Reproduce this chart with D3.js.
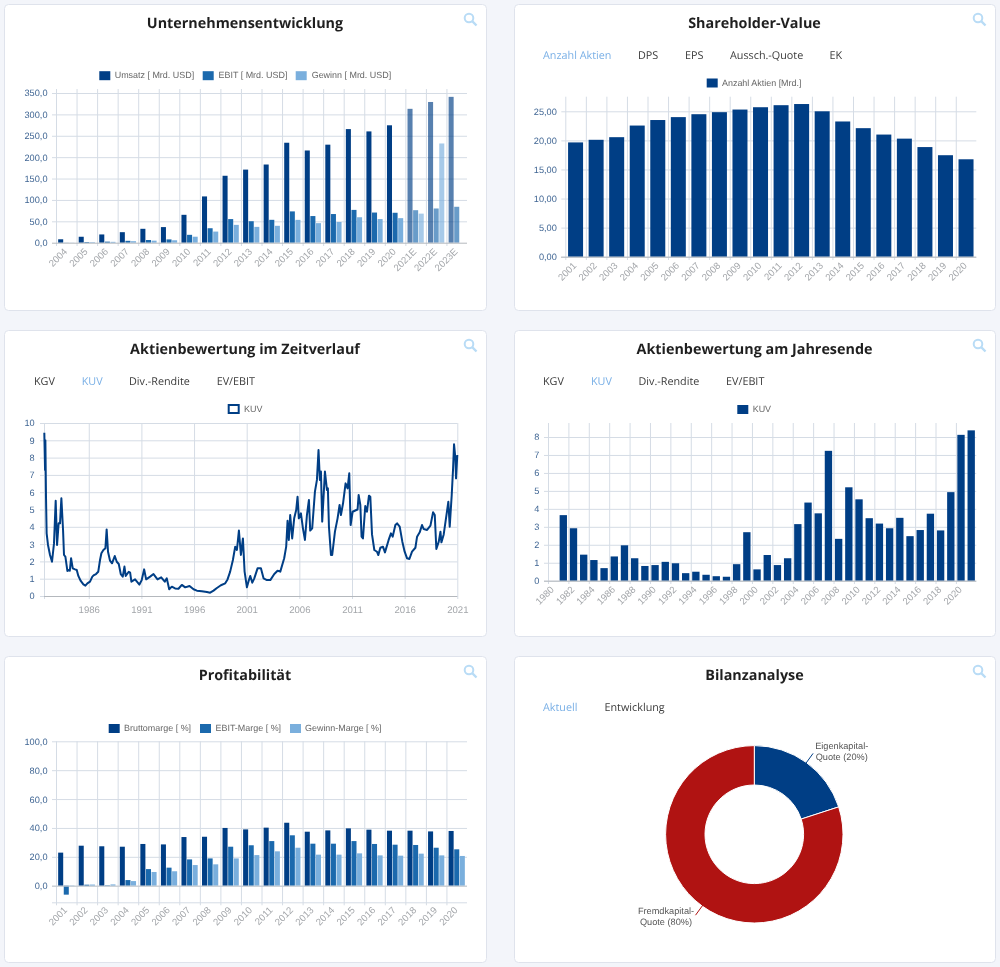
<!DOCTYPE html>
<html lang="de">
<head>
<meta charset="utf-8">
<title>Kennzahlen</title>
<script src="https://cdn.jsdelivr.net/npm/d3@7"></script>
<style>
html,body{margin:0;padding:0;background:#f3f5fa;}
svg{display:block;filter:blur(.35px);text-rendering:geometricPrecision;}
.title{font:700 14.35px "Open Sans",sans-serif;fill:#1f1f1f;text-anchor:middle;dominant-baseline:central;}
.tab{font:400 10.8px "Open Sans",sans-serif;fill:#3c3c3c;dominant-baseline:central;}
.tab.active{fill:#7ab0e6;}
.lg{font:8.95px "Liberation Sans",sans-serif;fill:#666;dominant-baseline:central;}
.ylab text{font:9.2px "Liberation Sans",sans-serif;fill:#3f6593;}
.xlab text{font:9.6px "Liberation Sans",sans-serif;fill:#a3a6aa;}
.grid line{stroke:#d5dce5;stroke-width:1;}
.grid path,.ylab path,.xlab path,.ylab line,.xlab line{display:none;}
.lbl{font:9.2px "Liberation Sans",sans-serif;fill:#555;text-anchor:middle;dominant-baseline:central;}
</style>
</head>
<body>
<svg id="c" width="1000" height="967"></svg>
<script>
// ---------- data ----------
const revenueYears = ["2004","2005","2006","2007","2008","2009","2010","2011","2012","2013","2014","2015","2016","2017","2018","2019","2020","2021E","2022E","2023E"];
const umsatz = [8,13.9,19.3,24.6,32.5,36.5,65.2,108.2,156.5,170.9,182.8,233.7,215.6,229.2,265.6,260.2,274.5,313,329,341];
const ebit = [0.3,1.6,2.5,4.4,6.3,7.7,18.4,33.8,55.2,50.2,53.5,73.2,62.3,67,76.7,70.5,70,76,80,84];
const gewinn = [0.3,1.3,2,3.5,4.8,5.7,14,26,41.7,37,39.5,53.4,45.7,48.4,59.5,55.3,57.4,68,232,null];
const estimateYears = ["2021E","2022E","2023E"];
const revenueTicks = [0,50,100,150,200,250,300,350];

const shareYears = d3.range(2001,2021).map(String);
const anzahlAktien = [19.65,20.1,20.55,22.55,23.5,24,24.5,24.85,25.3,25.7,26.05,26.25,25,23.25,22.1,21,20.3,18.85,17.45,16.75];
const shareTicks = [0,5,10,15,20,25];

const kuvDates = [1981.78,1981.85,1981.88,1981.94,1982.0,1982.13,1982.32,1982.51,1982.7,1982.86,1982.99,1983.14,1983.27,1983.4,1983.56,1983.65,1983.78,1983.97,1984.1,1984.2,1984.32,1984.48,1984.7,1984.86,1985.01,1985.24,1985.49,1985.68,1985.87,1986.12,1986.34,1986.5,1986.69,1986.9,1987.07,1987.2,1987.39,1987.58,1987.7,1987.83,1988.02,1988.21,1988.47,1988.66,1988.85,1989.04,1989.23,1989.39,1989.51,1989.8,1989.93,1990.05,1990.4,1990.81,1991.03,1991.26,1991.45,1991.83,1992.15,1992.53,1992.88,1993.22,1993.41,1993.64,1993.89,1994.2,1994.52,1994.84,1995.16,1995.57,1995.95,1996.27,1996.74,1997.22,1997.53,1997.85,1998.17,1998.55,1998.96,1999.18,1999.43,1999.69,1999.91,2000.07,2000.26,2000.45,2000.64,2000.8,2001.02,2001.21,2001.34,2001.53,2001.72,2002.03,2002.35,2002.6,2002.92,2003.24,2003.62,2003.93,2004.19,2004.56,2004.75,2004.88,2005.0,2005.13,2005.32,2005.51,2005.7,2005.83,2005.95,2006.15,2006.34,2006.53,2006.72,2006.91,2007.03,2007.22,2007.48,2007.67,2007.82,2007.95,2008.05,2008.17,2008.43,2008.62,2008.71,2008.81,2009.0,2009.12,2009.38,2009.63,2009.82,2009.95,2010.15,2010.39,2010.58,2010.74,2010.87,2011.06,2011.41,2011.53,2011.63,2011.79,2011.91,2012.04,2012.26,2012.42,2012.61,2012.74,2012.9,2013.12,2013.37,2013.5,2013.69,2013.94,2014.13,2014.48,2014.7,2014.86,2015.12,2015.28,2015.53,2015.78,2016.0,2016.23,2016.45,2016.7,2017.02,2017.18,2017.43,2017.65,2017.81,2018.13,2018.45,2018.7,2018.86,2019.01,2019.24,2019.4,2019.49,2019.71,2019.97,2020.15,2020.28,2020.47,2020.6,2020.69,2020.82,2020.88,2021.0];
const kuvValues = [9.44,7.28,9.0,5.74,3.62,2.95,2.37,1.98,3.04,5.51,2.95,4.2,4.2,5.65,3.8,2.37,2.27,1.45,1.5,1.46,2.18,1.6,1.54,1.5,1.16,0.87,0.67,0.6,0.73,0.83,1.12,1.21,1.27,1.4,2.08,2.47,2.66,2.76,3.85,2.56,2.04,1.89,2.31,1.98,1.85,1.27,1.12,1.7,1.16,1.4,1.35,0.83,0.96,0.66,0.92,1.54,0.96,1.12,1.27,0.96,1.08,0.83,1.02,0.39,0.54,0.44,0.42,0.64,0.5,0.58,0.39,0.31,0.27,0.23,0.19,0.31,0.46,0.62,0.73,0.96,1.41,2.08,2.85,2.66,3.78,2.37,3.33,1.41,0.5,0.92,1.16,0.77,1.02,1.6,1.6,1.02,0.92,0.92,1.27,1.46,1.41,2.18,2.85,4.35,3.24,4.68,3.33,4.49,4.97,5.74,4.49,4.78,3.91,3.24,4.68,5.55,3.78,3.91,6.03,6.71,8.44,6.71,7.19,4.3,7.19,6.13,6.22,4.01,2.37,2.37,3.72,4.49,5.26,4.68,5.36,6.51,6.22,7.09,4.1,4.87,4.97,5.0,5.84,5.26,3.43,3.33,5.2,4.87,5.8,5.74,3.56,2.66,2.56,2.37,2.79,2.85,2.52,3.24,3.62,3.43,4.1,4.2,4.01,3.14,2.56,2.18,2.14,2.56,2.79,3.43,3.68,4.1,3.87,3.82,4.07,4.84,4.68,2.72,3.14,3.72,3.1,3.56,4.68,5.45,4.01,5.84,7.38,8.77,7.96,6.8,8.15];
const kuvLineTicks = [1986,1991,1996,2001,2006,2011,2016,2021];
const kuvLineYTicks = d3.range(0,11);

const kuvBarYears = d3.range(1980,2022).map(String);
const kuvBarValues = [null,3.65,2.92,1.45,1.15,0.7,1.35,1.97,1.25,0.82,0.87,1.05,0.97,0.42,0.5,0.33,0.25,0.22,0.92,2.7,0.63,1.43,0.87,1.25,3.15,4.35,3.75,7.23,2.33,5.2,4.53,3.48,3.18,2.92,3.5,2.48,2.82,3.73,2.8,4.93,8.12,8.37];
const kuvBarTicks = d3.range(0,9);

const marginYears = d3.range(2001,2021).map(String);
const bruttomarge = [22.9,27.7,27.3,27,28.9,28.6,33.7,33.9,40,39,40.2,43.6,37.4,38.3,39.7,38.8,38.1,38.1,37.6,37.9];
const ebitMarge = [-6.2,0.7,0.3,3.9,11.5,12.5,18.2,18.9,27,28,30.9,34.9,29.1,29.1,30.9,28.9,28.4,28.2,26.3,25.2];
const gewinnMarge = [-0.3,0.8,0.9,3.2,9.5,10,14.3,14.8,18.9,21.2,23.8,26.3,21.5,21.5,22.4,21,20.8,22.2,21,20.6];
const marginTicks = [0,20,40,60,80,100];

const bilanzLabels = [["Eigenkapital-","Quote (20%)"],["Fremdkapital-","Quote (80%)"]];
const bilanzValues = [20,80];

const navy="#003e85", mid="#1b69ad", light="#7aafdd", red="#b01312";
const de1=d3.format(".1f"), de2=d3.format(".2f");
const comma=f=>v=>f(v).replace(".",",");

// ---------- helpers ----------
const svg=d3.select("#c");
function card(x,y,w,h,title,tx){
  svg.append("rect").attr("x",x+.5).attr("y",y+.5).attr("width",w).attr("height",h).attr("rx",4)
    .attr("fill","#fff").attr("stroke","#dfe3ec");
  svg.append("text").attr("class","title").attr("x",tx).attr("y",y+19).text(title);
  const ic=svg.append("g").attr("transform",`translate(${x+w-17},${y+14})`).attr("fill","none").attr("stroke","#b9dcf6").attr("stroke-width",2);
  ic.append("circle").attr("r",4.3);
  ic.append("line").attr("x1",3.2).attr("y1",3.2).attr("x2",7.5).attr("y2",7.5).attr("stroke-width",2.4);
}
function tabs(list,y,activeIdx){
  list.forEach(([t,x],i)=>svg.append("text").attr("class","tab"+(i===activeIdx?" active":"")).attr("x",x).attr("y",y).text(t));
}
function legend(items,yc){
  items.forEach(it=>{
    const r=svg.append("rect").attr("x",it.x).attr("y",yc-4.5).attr("width",11).attr("height",9);
    if(it.outline) r.attr("x",it.x+1).attr("y",yc-4).attr("width",10).attr("height",8).attr("fill","#fff").attr("stroke",it.color).attr("stroke-width",2);
    else r.attr("fill",it.color);
    svg.append("text").attr("class","lg").attr("x",it.tx).attr("y",yc-.4).text(it.label);
  });
}
function yAxis(y,ticks,fmt,left,right,labelX){
  const g=svg.append("g").attr("class","grid").attr("transform",`translate(${left},0)`)
    .call(d3.axisLeft(y).tickValues(ticks).tickSize(-(right-left)).tickFormat(""));
  g.selectAll("line").attr("x1",right-left).attr("x2",-4);
  svg.append("g").attr("class","ylab").attr("transform",`translate(${labelX},0)`)
    .call(d3.axisLeft(y).tickValues(ticks).tickSize(0).tickPadding(0).tickFormat(fmt));
}
function vGrid(xs,top,bottom){
  svg.append("g").attr("class","grid").selectAll("line").data(xs).join("line")
    .attr("x1",d=>d+.5).attr("x2",d=>d+.5).attr("y1",top).attr("y2",bottom);
}
function xLabels(x,cats,yBase){
  const ax=svg.append("g").attr("class","xlab").attr("transform",`translate(0,${yBase})`)
    .call(d3.axisBottom(x).tickValues(cats).tickSize(0).tickPadding(0));
  ax.selectAll("text").attr("text-anchor","end").attr("dy",0).attr("y",0)
    .attr("transform",function(){return "translate(1.5,9.5) rotate(-45)";});
}
function base(x1,x2,y0,col){svg.append("line").attr("x1",x1).attr("x2",x2).attr("y1",y0+.5).attr("y2",y0+.5).attr("stroke",col||"#b4b8bd");}
function groupedBars(cats,seriesArr,colors,x0,y,opFn){
  const keys=d3.range(seriesArr.length);
  const x1=d3.scaleBand().domain(keys).range([0,x0.bandwidth()]).paddingInner(.1).paddingOuter(.385);
  keys.forEach(k=>{
    svg.append("g").selectAll("rect").data(cats.map((c,i)=>({c,v:seriesArr[k][i]})).filter(d=>d.v!=null)).join("rect")
      .attr("x",d=>x0(d.c)+x1(k)).attr("width",x1.bandwidth())
      .attr("y",d=>Math.min(y(d.v),y(0))).attr("height",d=>Math.abs(y(d.v)-y(0)))
      .attr("fill",colors[k]).attr("opacity",d=>opFn?opFn(d.c):1);
  });
}
function bandLines(x,cats){return cats.map(c=>x(c));}

// ---------- 1 Unternehmensentwicklung ----------
card(4,4,482,306,"Unternehmensentwicklung",245);
legend([{x:99.3,tx:114.7,color:navy,label:"Umsatz [ Mrd. USD]"},{x:202.7,tx:218.5,color:mid,label:"EBIT [ Mrd. USD]"},{x:295.7,tx:311.7,color:light,label:"Gewinn [ Mrd. USD]"}],75.7);
{
  const x=d3.scaleBand().domain(revenueYears).range([56,467]);
  const y=d3.scaleLinear().domain([0,350]).range([242.7,93]);
  vGrid(bandLines(x,revenueYears),89,246);
  yAxis(y,revenueTicks.slice(1),comma(de1),56,467,47.5);
  svg.append("g").attr("class","ylab").attr("transform","translate(47.5,0)").call(d3.axisLeft(y).tickValues([0]).tickSize(0).tickPadding(0).tickFormat(comma(de1)));
  groupedBars(revenueYears,[umsatz,ebit,gewinn],[navy,mid,light],x,y,c=>estimateYears.includes(c)?.66:1);
  base(52,467,y(0));
  xLabels(x,revenueYears,242.7);
}

// ---------- 2 Shareholder-Value ----------
card(514,4,481,306,"Shareholder-Value",754.5);
tabs([["Anzahl Aktien",543],["DPS",638],["EPS",685],["Aussch.-Quote",730],["EK",829.6]],55,0);
legend([{x:706.7,tx:722,color:navy,label:"Anzahl Aktien [Mrd.]"}],83);
{
  const x=d3.scaleBand().domain(shareYears).range([565.3,976.3]).paddingInner(.27).paddingOuter(.135);
  const xFull=d3.scaleBand().domain(shareYears).range([565.3,976.3]);
  const y=d3.scaleLinear().domain([0,25]).range([256.7,111.3]);
  vGrid(bandLines(xFull,shareYears),96.7,260);
  yAxis(y,shareTicks,comma(de2),565.3,976.3,556.8);
  svg.append("g").selectAll("rect").data(shareYears.map((c,i)=>({c,v:anzahlAktien[i]}))).join("rect")
    .attr("x",d=>x(d.c)).attr("width",x.bandwidth()).attr("y",d=>y(d.v)).attr("height",d=>y(0)-y(d.v)).attr("fill",navy);
  base(561,976.3,y(0));
  xLabels(xFull,shareYears,256.7);
}

// ---------- 3 Aktienbewertung im Zeitverlauf ----------
card(4,330,482,306,"Aktienbewertung im Zeitverlauf",245);
tabs([["KGV",34],["KUV",81.7],["Div.-Rendite",129],["EV/EBIT",216.7]],381,1);
legend([{x:227.7,tx:244,color:navy,outline:true,label:"KUV"}],409);
{
  const x=d3.scaleLinear().domain([1981.75,2021]).range([44,457.3]);
  const y=d3.scaleLinear().domain([0,10]).range([596,423]);
  vGrid([44,...kuvLineTicks.map(x)],423,599);
  yAxis(y,kuvLineYTicks,d3.format("d"),44,457.3,34.7);
  base(44,457.3,y(0));
  const line=d3.line().x((d,i)=>x(kuvDates[i])).y(d=>y(d));
  svg.append("path").attr("d",line(kuvValues)).attr("fill","none").attr("stroke",navy).attr("stroke-width",2).attr("stroke-linejoin","round");
  const ax=svg.append("g").attr("class","xlab").attr("transform","translate(0,609.5)")
    .call(d3.axisBottom(x).tickValues(kuvLineTicks).tickFormat(d3.format("d")).tickSize(0).tickPadding(0));
  ax.selectAll("text").attr("y",0).attr("dy","0.32em");
}

// ---------- 4 Aktienbewertung am Jahresende ----------
card(514,330,481,306,"Aktienbewertung am Jahresende",754.5);
tabs([["KGV",543],["KUV",591],["Div.-Rendite",638.5],["EV/EBIT",726]],381,1);
legend([{x:737.3,tx:752.7,color:navy,label:"KUV"}],409.5);
{
  const xFull=d3.scaleBand().domain(kuvBarYears).range([548,976.3]);
  const x=d3.scaleBand().domain(kuvBarYears).range([548,976.3]).paddingInner(.28).paddingOuter(.14);
  const y=d3.scaleLinear().domain([0,8]).range([580.7,437]);
  const labelled=kuvBarYears.filter((d,i)=>i%2===0);
  vGrid(labelled.map(xFull).concat([]),423,584);
  yAxis(y,kuvBarTicks,d3.format("d"),548,976.3,539.3);
  svg.append("g").selectAll("rect").data(kuvBarYears.map((c,i)=>({c,v:kuvBarValues[i]})).filter(d=>d.v!=null)).join("rect")
    .attr("x",d=>x(d.c)).attr("width",x.bandwidth()).attr("y",d=>y(d.v)).attr("height",d=>y(0)-y(d.v)).attr("fill",navy);
  base(544,976.3,y(0));
  xLabels(xFull,labelled,580.7);
}

// ---------- 5 Profitabilität ----------
card(4,656,482,306,"Profitabilität",245);
legend([{x:108.7,tx:124,color:navy,label:"Bruttomarge [ %]"},{x:200,tx:215.5,color:mid,label:"EBIT-Marge [ %]"},{x:290,tx:305,color:light,label:"Gewinn-Marge [ %]"}],728.5);
{
  const x=d3.scaleBand().domain(marginYears).range([56,467]);
  const y=d3.scaleLinear().domain([0,100]).range([885.7,741.3]);
  const bottom=y(-11.5);
  vGrid(bandLines(x,marginYears),741.3,bottom+3);
  yAxis(y,marginTicks,comma(de1),56,467,47.5);
  svg.append("line").attr("x1",52).attr("x2",467).attr("y1",bottom+.5).attr("y2",bottom+.5).attr("stroke","#d5dce5");
  groupedBars(marginYears,[bruttomarge,ebitMarge,gewinnMarge],[navy,mid,light],x,y);
  base(52,467,y(0),"#c4c8cc");
  xLabels(x,marginYears,bottom-1);
}

// ---------- 6 Bilanzanalyse ----------
card(514,656,481,306,"Bilanzanalyse",754.5);
tabs([["Aktuell",543],["Entwicklung",604.5]],707,0);
{
  const g=svg.append("g").attr("transform","translate(754.3,834.3)");
  const pie=d3.pie().sort(null);
  const arc=d3.arc().innerRadius(49.3).outerRadius(88.7);
  const colors=[navy,red];
  const arcs=pie(bilanzValues);
  g.selectAll("path").data(arcs).join("path").attr("d",arc).attr("fill",(d,i)=>colors[i]).attr("stroke","#fff").attr("stroke-width",1);
  const a0=d3.arc().innerRadius(86).outerRadius(86), a1=d3.arc().innerRadius(100).outerRadius(100);
  arcs.forEach((d,i)=>{
    const p=a0.centroid(d), q=a1.centroid(d);
    g.append("line").attr("x1",p[0]).attr("y1",p[1]).attr("x2",q[0]).attr("y2",q[1]).attr("stroke",colors[i]).attr("stroke-width",1);
  });
  const labelPos=[[87.4,-88.3],[-88.3,76.7]];
  arcs.forEach((d,i)=>{
    bilanzLabels[i].forEach((t,j)=>{
      g.append("text").attr("class","lbl").attr("x",labelPos[i][0]).attr("y",labelPos[i][1]+j*10.7).text(t);
    });
  });
}
</script>
</body>
</html>
